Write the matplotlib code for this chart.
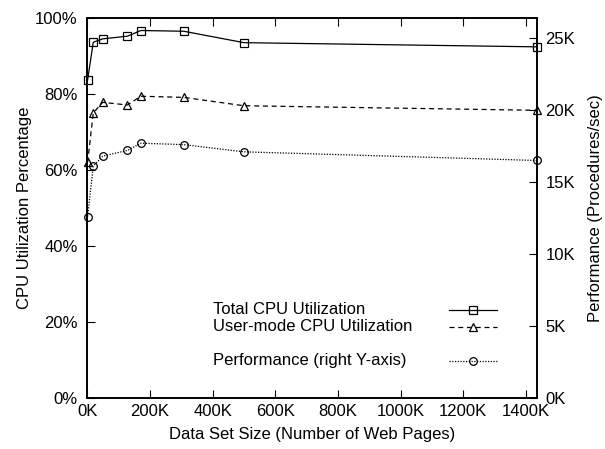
import matplotlib
matplotlib.use("Agg")
import matplotlib.pyplot as plt
from matplotlib.ticker import FuncFormatter

plt.rcParams['font.family'] = ['Liberation Sans', 'DejaVu Sans']
plt.rcParams['font.size'] = 12

# data set size, in thousands of web pages
tamanho_k = [1, 19, 49, 128, 171, 308, 500, 1435]
# CPU utilisation (%)
cpu_total = [83.7, 93.6, 94.5, 95.2, 96.7, 96.5, 93.5, 92.4]
cpu_user = [62.0, 75.0, 77.8, 77.1, 79.4, 79.1, 76.9, 75.7]
# performance, thousands of procedures/sec (right axis)
desempenho_k = [12.6, 16.1, 16.8, 17.2, 17.7, 17.6, 17.1, 16.5]

x_ticks = [0, 200, 400, 600, 800, 1000, 1200, 1400]
y_ticks = [0, 20, 40, 60, 80, 100]
y2_ticks = [0, 5, 10, 15, 20, 25]

fig = plt.figure(figsize=(6.05, 4.49), dpi=100)
ax = fig.add_axes([0.1443, 0.1136, 0.7433, 0.8464])
ax2 = ax.twinx()

estilo = dict(color="black", markerfacecolor="none", markeredgecolor="black",
              markersize=5.5, markeredgewidth=0.9, clip_on=False)

ax.plot(tamanho_k, cpu_total, linestyle="-", linewidth=0.9, marker="s", **estilo)
ax.plot(tamanho_k, cpu_user, linestyle=(0, (4, 3)), linewidth=0.9, marker="^", **estilo)
ax2.plot(tamanho_k, desempenho_k, linestyle=(0, (1, 1.2)), linewidth=0.9, marker="o", **estilo)

ax.set_xlim(0, 1435)
ax.set_ylim(0, 100)
ax2.set_ylim(0, 26.4)

ax.set_xticks(x_ticks)
ax.set_yticks(y_ticks)
ax2.set_yticks(y2_ticks)
ax.xaxis.set_major_formatter(FuncFormatter(lambda v, p: f"{int(v)}K"))
ax.yaxis.set_major_formatter(FuncFormatter(lambda v, p: f"{int(v)}%"))
ax2.yaxis.set_major_formatter(FuncFormatter(lambda v, p: f"{int(v)}K"))

ax.tick_params(axis="x", direction="in", length=6, width=0.8, top=True, pad=4)
ax.tick_params(axis="y", direction="in", length=6, width=0.8, right=False, pad=7)
ax2.tick_params(axis="y", direction="in", length=6, width=0.8, pad=6)

for a in (ax, ax2):
    for s in a.spines.values():
        s.set_linewidth(1.2)

ax.set_xlabel("Data Set Size (Number of Web Pages)", labelpad=6)
ax.set_ylabel("CPU Utilization Percentage", labelpad=2)
ax2.set_ylabel("Performance (Procedures/sec)", labelpad=9)

# legend drawn by hand, gnuplot style (text left, sample right)
legenda = [
    ("Total CPU Utilization", "-", "s", 0.2316),
    ("User-mode CPU Utilization", (0, (4, 3)), "^", 0.1876),
    ("Performance (right Y-axis)", (0, (1, 1.2)), "o", 0.098),
]
for texto, ls, mk, yy in legenda:
    ax.text(0.2795, yy, texto, transform=ax.transAxes, ha="left", va="center",
            fontsize=12)
    ax.plot([0.804, 0.911], [yy, yy], transform=ax.transAxes, color="black",
            linestyle=ls, linewidth=0.9, clip_on=False)
    ax.plot([0.858], [yy], transform=ax.transAxes, linestyle="none", marker=mk,
            markerfacecolor="none", markeredgecolor="black", markersize=5.5,
            markeredgewidth=0.9, clip_on=False)

fig.savefig("out.png", dpi=100)
